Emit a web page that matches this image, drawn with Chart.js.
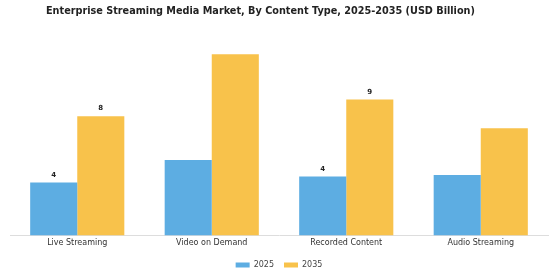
<!DOCTYPE html>
<html>
<head>
<meta charset="utf-8">
<script src="https://cdn.jsdelivr.net/npm/chart.js@4.4.0/dist/chart.umd.min.js"></script>
<style>
  html, body { margin: 0; padding: 0; background: #fff; }
  #wrap { width: 560px; height: 280px; }
</style>
</head>
<body>
<div id="wrap"><canvas id="chart"></canvas></div>
<script>
// ==================== DATA ====================
const categories = ['Live Streaming', 'Video on Demand', 'Recorded Content', 'Audio Streaming'];
const values2025 = [3.5, 5.0, 3.9, 4.0];
const values2035 = [7.9, 12.0, 9.0, 7.1];
const showLabel = [true, false, true, false];

// ==================== BAR LABELS ====================
const barLabels = {
  id: 'barLabels',
  afterDatasetsDraw(chart) {
    const ctx = chart.ctx;
    ctx.save();
    ctx.font = 'bold 7px "DejaVu Sans"';
    ctx.fillStyle = '#222';
    ctx.textAlign = 'center';
    ctx.textBaseline = 'bottom';
    chart.data.datasets.forEach((ds, i) => {
      chart.getDatasetMeta(i).data.forEach((bar, j) => {
        if (!showLabel[j]) return;
        ctx.fillText(Math.round(ds.data[j]), bar.x, bar.y - 4);
      });
    });
    ctx.restore();
  }
};

// title sits a bit left of centre in the original
const titleText = 'Enterprise Streaming Media Market, By Content Type, 2025-2035 (USD Billion)' + '\u00a0'.repeat(11);

// ==================== CHART ====================
new Chart(document.getElementById('chart'), {
  type: 'bar',
  data: {
    labels: categories,
    datasets: [
      { label: '2025', data: values2025, backgroundColor: '#5dade2' },
      { label: '2035', data: values2035, backgroundColor: '#f8c24b' }
    ]
  },
  options: {
    responsive: true,
    maintainAspectRatio: false,
    animation: false,
    layout: { padding: { left: 10, right: 12, top: 6, bottom: 1 } },
    datasets: { bar: { categoryPercentage: 0.7, barPercentage: 1.0 } },
    scales: {
      x: {
        grid: { display: false, drawTicks: false },
        border: { display: true, color: '#ddd' },
        ticks: { color: '#333', font: { family: 'DejaVu Sans', size: 8 }, padding: 3 }
      },
      y: { display: false, min: 0, max: 13.1 }
    },
    plugins: {
      title: {
        display: true,
        text: titleText,
        color: '#222',
        font: { family: 'DejaVu Sans', size: 9.7, weight: 'bold' },
        padding: { top: 0, bottom: 20 }
      },
      legend: {
        position: 'bottom',
        labels: {
          boxWidth: 14, boxHeight: 5, padding: 10,
          color: '#444',
          font: { family: 'DejaVu Sans', size: 8 }
        }
      },
      tooltip: { enabled: false }
    }
  },
  plugins: [barLabels]
});
</script>
</body>
</html>
